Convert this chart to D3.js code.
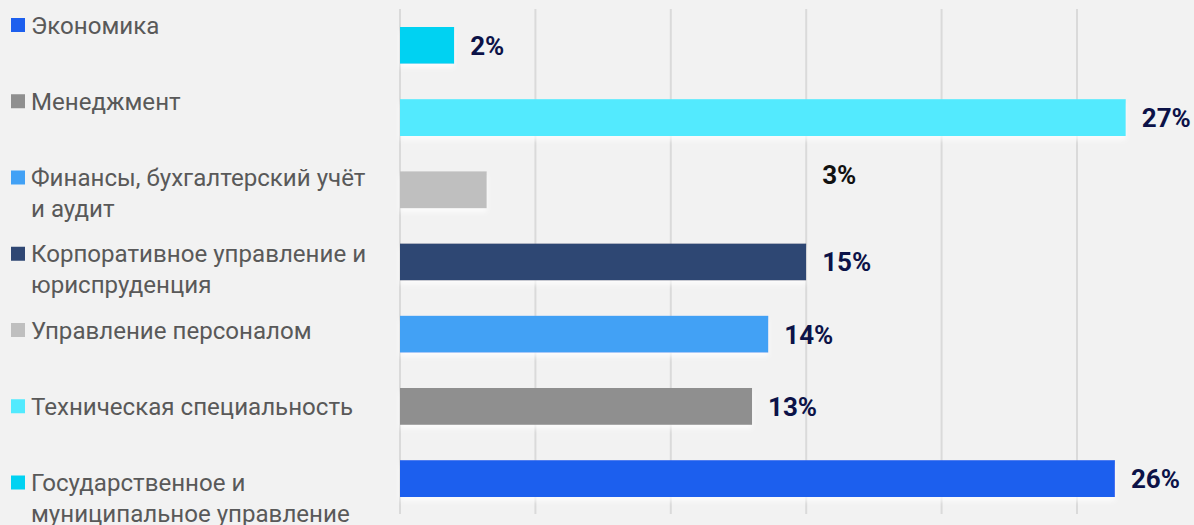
<!DOCTYPE html>
<html><head><meta charset="utf-8">
<script src="https://cdn.jsdelivr.net/npm/d3@7"></script>
<style>
html,body{margin:0;padding:0;background:#f2f2f2;overflow:hidden}
svg{display:block}
</style></head>
<body><svg id="chart" width="1194" height="525"></svg>
<script>
// Legend order (top to bottom)
const categories = [
  "Экономика",
  "Менеджмент",
  "Финансы, бухгалтерский учёт и аудит",
  "Корпоративное управление и юриспруденция",
  "Управление персоналом",
  "Техническая специальность",
  "Государственное и муниципальное управление"
];
const legendLines = [
  ["Экономика"],
  ["Менеджмент"],
  ["Финансы, бухгалтерский учёт", "и аудит"],
  ["Корпоративное управление и", "юриспруденция"],
  ["Управление персоналом"],
  ["Техническая специальность"],
  ["Государственное и", "муниципальное управление"]
];
const values = [26.4, 13.0, 13.6, 15.0, 3.2, 26.8, 2.0];
const valueLabels = ["26%", "13%", "14%", "15%", "3%", "27%", "2%"];
const colors = ["#1d5fee", "#8f8f8f", "#42a1f5", "#2f4773", "#bfbfbf", "#52eafe", "#00d2f2"];
const gridTicks = [0, 5, 10, 15, 20, 25];

const svg = d3.select("#chart");

const x = d3.scaleLinear().domain([0, 30]).range([400, 1212.4]);
// bars drawn in reverse of legend order (bottom-up)
const barOrder = categories.slice().reverse();
const y = d3.scaleBand().domain(barOrder).range([9.3, 514.7]).paddingInner(0.49).paddingOuter(0.245);

const defs = svg.append("defs");
const f = defs.append("filter").attr("id", "glow").attr("x", "-5%").attr("y", "-20%").attr("width", "110%").attr("height", "160%");
f.append("feDropShadow").attr("dx", 0).attr("dy", 4).attr("stdDeviation", 2.5)
  .attr("flood-color", "#ffffff").attr("flood-opacity", 0.75);

// gridlines
svg.append("g").selectAll("line").data(gridTicks).join("line")
  .attr("x1", d => x(d)).attr("x2", d => x(d))
  .attr("y1", 9).attr("y2", 514)
  .attr("stroke", "#dadada").attr("stroke-width", 2);

const idx = categories.map((c, i) => i);

// bars
svg.append("g").selectAll("rect").data(idx).join("rect")
  .attr("x", x(0))
  .attr("y", i => y(categories[i]))
  .attr("width", i => x(values[i]) - x(0))
  .attr("height", y.bandwidth())
  .attr("fill", i => colors[i])
  .attr("filter", "url(#glow)");

// value labels (the "3%" label in the original is displaced: it sits beside the
// neighbouring row's bar end and slightly above its own bar)
const odd = "Управление персоналом";
const labelAnchor = values.map((v, i) => categories[i] === odd ? values[i - 1] : v);
svg.append("g").selectAll("text").data(idx).join("text")
  .attr("x", i => x(labelAnchor[i]) + 16)
  .attr("y", i => y(categories[i]) + y.bandwidth() / 2 - (categories[i] === odd ? 15 : 0))
  .attr("dy", "0.36em")
  .attr("font-family", "Roboto, sans-serif")
  .attr("font-weight", 700)
  .attr("font-size", 26)
  .attr("fill", i => categories[i] === odd ? "#111111" : "#0c1248")
  .text(i => valueLabels[i]);

// legend
const legendY = d3.scaleLinear().domain([0, 6]).range([25, 482.5]);
const lg = svg.append("g").selectAll("g").data(idx).join("g")
  .attr("transform", i => `translate(0,${legendY(i)})`);
lg.append("rect").attr("x", 11).attr("y", -7).attr("width", 14).attr("height", 14)
  .attr("fill", i => colors[i]);
lg.append("text")
  .attr("x", 31)
  .attr("font-family", "Roboto, sans-serif")
  .attr("font-size", 24.1)
  .attr("fill", "#595959")
  .selectAll("tspan").data(i => legendLines[i].map((t, k) => ({t, k}))).join("tspan")
  .attr("x", 31)
  .attr("y", d => d.k * 31)
  .attr("dy", "0.36em")
  .text(d => d.t);
</script>
</body></html>
